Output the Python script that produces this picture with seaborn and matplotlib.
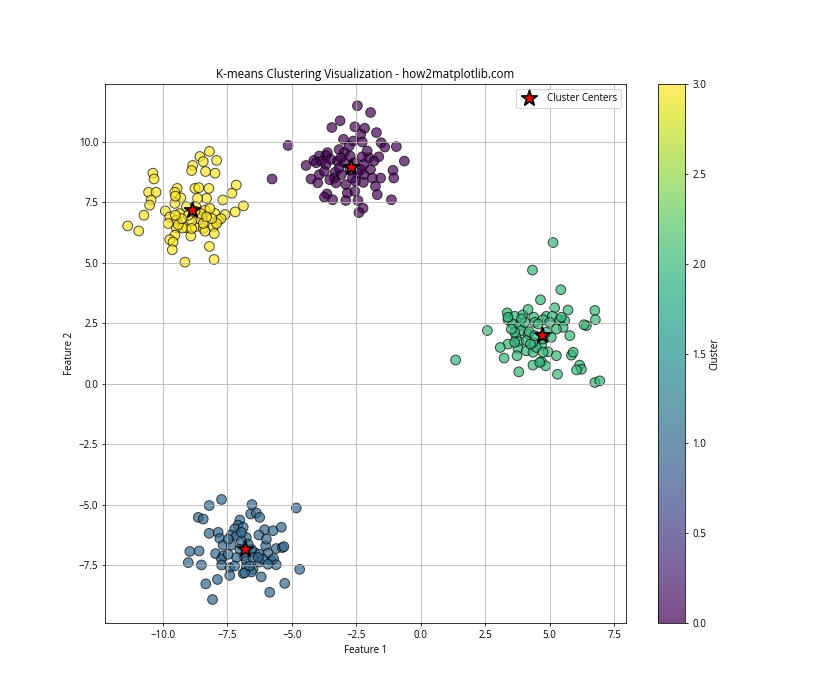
import numpy as np
import pandas as pd
import matplotlib
matplotlib.use('Agg')
import matplotlib.pyplot as plt
import seaborn as sns

# puntos, un grupo por cluster
x_cluster0 = [-2.46, -1.95, -3.13, -3.45, -2.56, -2.18, -2.33, -1.72, -3.00, -2.62,
              -2.27, -1.54, -1.40, -0.95, -5.15, -3.17, -3.62, -2.97, -2.74, -3.68,
              -3.94, -2.27, -2.01, -1.63, -1.82, -0.64, -4.15, -4.06, -4.45, -3.85,
              -3.49, -3.23, -2.97, -2.21, -2.33, -2.21, -2.46, -1.08, -1.05, -3.32,
              -3.36, -3.08, -3.94, -4.26, -4.00, -3.53, -2.91, -2.53, -2.23, -5.77,
              -1.76, -1.69, -2.56, -3.64, -3.74, -3.42, -2.91, -2.44, -1.14, -2.24,
              -2.40, -2.74, -2.59, -3.17, -3.68, -1.95, -2.08, -2.78, -3.10, -2.65,
              -3.29, -3.74, -1.56, -1.88, -2.85]
y_cluster0 = [11.50, 11.22, 10.88, 10.60, 10.63, 10.57, 10.32, 10.39, 10.11, 10.04,
              10.00, 9.97, 9.79, 9.81, 9.86, 9.69, 9.56, 9.56, 9.42, 9.44,
              9.42, 9.39, 9.35, 9.39, 9.21, 9.21, 9.24, 9.14, 9.03, 9.21,
              9.28, 9.21, 9.14, 9.07, 8.86, 8.65, 8.72, 8.83, 8.51, 8.75,
              8.51, 8.65, 8.65, 8.47, 8.31, 8.44, 8.24, 8.38, 8.33, 8.47,
              8.17, 7.82, 7.96, 7.85, 7.72, 7.61, 7.58, 7.58, 7.61, 7.26,
              7.08, 8.83, 9.14, 8.93, 9.07, 8.86, 9.63, 9.83, 9.35, 8.51,
              8.31, 8.79, 8.51, 8.51, 7.89]

x_cluster1 = [-7.73, -8.21, -6.55, -4.83, -6.60, -6.38, -6.25, -8.63, -8.44, -7.02,
              -7.09, -7.22, -6.89, -6.06, -5.73, -5.41, -8.21, -7.86, -7.80, -7.35,
              -7.15, -6.77, -6.28, -6.96, -7.67, -7.35, -6.02, -5.61, -5.37, -5.31,
              -8.96, -8.60, -7.96, -7.67, -7.73, -6.87, -6.44, -6.25, -5.93, -5.80,
              -5.71, -9.02, -8.51, -7.73, -7.41, -6.77, -6.51, -6.25, -6.12, -5.61,
              -5.93, -4.70, -6.89, -6.57, -7.41, -6.19, -7.89, -8.34, -5.28, -5.86,
              -8.08, -6.77, -7.02, -6.57, -6.51, -7.15, -7.47, -6.96, -6.83, -6.64,
              -6.31, -7.47, -6.70, -5.99, -7.22]
y_cluster1 = [-4.79, -5.04, -5.00, -5.14, -5.39, -5.35, -5.53, -5.53, -5.60, -5.64,
              -5.85, -6.01, -5.94, -6.04, -6.08, -5.94, -6.19, -6.15, -6.40, -6.26,
              -6.29, -6.36, -6.26, -6.50, -6.68, -6.68, -6.71, -6.82, -6.78, -6.74,
              -6.94, -6.92, -7.03, -7.13, -7.26, -7.13, -6.99, -7.06, -7.01, -7.33,
              -7.24, -7.40, -7.50, -7.50, -7.61, -7.57, -7.68, -7.38, -7.26, -7.49,
              -7.47, -7.68, -7.85, -7.79, -7.93, -7.99, -8.10, -8.28, -8.26, -8.63,
              -8.93, -7.33, -6.85, -6.85, -7.19, -7.19, -7.06, -6.15, -7.82, -7.54,
              -7.19, -6.43, -6.64, -6.43, -7.54]

x_cluster2 = [5.13, 4.33, 5.43, 4.64, 3.35, 3.64, 3.96, 4.16, 4.38, 3.38,
              4.87, 5.19, 5.10, 5.39, 5.58, 5.71, 6.75, 6.77, 6.42, 6.33,
              2.58, 3.57, 3.83, 4.42, 4.74, 5.52, 5.78, 5.06, 3.90, 4.16,
              3.70, 3.81, 3.38, 3.08, 3.77, 4.09, 4.35, 4.68, 4.48, 4.93,
              5.26, 5.84, 5.91, 3.73, 3.23, 1.35, 4.68, 4.84, 4.35, 6.16,
              6.23, 6.04, 5.30, 3.80, 6.75, 6.94, 4.61, 4.20, 3.64, 4.35,
              4.74, 4.03, 4.55, 5.00, 3.51, 4.09, 4.74, 3.64, 5.26, 3.90,
              4.87, 5.45, 4.42, 4.25, 3.38]
y_cluster2 = [5.84, 4.70, 3.89, 3.47, 2.93, 2.79, 2.85, 3.07, 2.75, 2.65,
              2.79, 3.14, 2.79, 2.65, 2.61, 3.05, 3.03, 2.65, 2.40, 2.44,
              2.20, 2.47, 2.40, 2.54, 2.65, 2.33, 1.99, 1.92, 2.20, 2.06,
              1.92, 1.74, 1.64, 1.50, 1.46, 1.36, 1.30, 1.60, 1.50, 1.32,
              1.16, 1.18, 1.30, 1.16, 1.06, 0.98, 0.91, 0.74, 0.77, 0.77,
              0.60, 0.57, 0.39, 0.49, 0.05, 0.12, 0.88, 2.15, 2.13, 1.71,
              1.85, 2.54, 2.47, 2.54, 2.26, 1.78, 1.30, 1.71, 2.26, 2.68,
              2.13, 2.75, 1.99, 1.64, 2.75]

x_cluster3 = [-8.20, -8.57, -8.44, -7.92, -8.85, -8.89, -8.35, -7.98, -10.39, -10.35,
              -7.16, -7.33, -8.76, -8.61, -8.22, -9.45, -9.54, -10.56, -10.27, -10.46,
              -10.52, -9.31, -9.54, -8.31, -7.68, -8.66, -6.88, -9.91, -10.74, -7.20,
              -7.59, -7.98, -8.37, -8.50, -9.35, -9.74, -9.48, -7.85, -7.75, -11.37,
              -10.94, -9.09, -8.76, -9.48, -8.44, -8.05, -8.37, -8.01, -9.54, -8.92,
              -9.74, -9.61, -8.20, -9.64, -9.15, -8.02, -8.63, -8.44, -8.89, -9.24,
              -8.72, -9.09, -9.41, -8.18, -7.92, -9.80, -8.54, -9.52, -8.11, -9.02,
              -9.28, -8.76, -8.31, -8.89, -9.52]
y_cluster3 = [9.61, 9.40, 9.19, 9.24, 9.03, 8.82, 8.78, 8.71, 8.71, 8.47,
              8.22, 7.88, 8.08, 8.11, 8.08, 8.08, 7.92, 7.92, 7.92, 7.60,
              7.39, 7.69, 7.46, 7.67, 7.60, 7.67, 7.36, 7.15, 6.97, 7.11,
              7.00, 7.04, 7.18, 6.90, 7.04, 6.90, 6.76, 6.76, 6.83, 6.53,
              6.32, 6.46, 6.49, 6.44, 6.42, 6.49, 6.31, 6.21, 6.14, 6.11,
              5.96, 5.86, 5.68, 5.54, 5.03, 5.14, 6.83, 6.63, 6.72, 6.44,
              7.32, 7.32, 6.58, 7.25, 6.63, 6.63, 7.04, 7.76, 6.83, 6.97,
              6.83, 7.14, 6.90, 6.42, 6.97]

# centros de los clusters (estrellas rojas)
centros_x = [-2.69, -6.82, 4.70, -8.87]
centros_y = [8.97, -6.82, 2.03, 7.18]

xs = [x_cluster0, x_cluster1, x_cluster2, x_cluster3]
ys = [y_cluster0, y_cluster1, y_cluster2, y_cluster3]
frames = []
for etiqueta in range(4):
    frames.append(pd.DataFrame({'x': xs[etiqueta], 'y': ys[etiqueta], 'cluster': etiqueta}))
datos = pd.concat(frames, ignore_index=True)

plt.rcParams['font.family'] = ['Open Sans', 'DejaVu Sans']

fig = plt.figure(figsize=(12, 10), dpi=70)
ax = plt.gca()

sns.scatterplot(
    data=datos, x='x', y='y', hue='cluster',
    palette='viridis', hue_norm=(0, 3),
    s=100, alpha=0.7, edgecolor='black', linewidth=1,
    legend=False, ax=ax
)
ax.scatter(centros_x, centros_y, c='red', marker='*', s=280,
           edgecolors='black', linewidths=1.8, label='Cluster Centers', zorder=3)

sm = plt.cm.ScalarMappable(cmap='viridis', norm=plt.Normalize(0, 3))
cbar = fig.colorbar(sm, ax=ax, alpha=0.7)
cbar.set_label('Cluster')

ax.set_xlim(-12.25, 7.95)
ax.set_ylim(-9.9, 12.4)
ax.set_title('K-means Clustering Visualization - how2matplotlib.com')
ax.set_xlabel('Feature 1')
ax.set_ylabel('Feature 2')
ax.legend(loc='upper right')
ax.grid(True)

plt.savefig('out.png', dpi=70)
